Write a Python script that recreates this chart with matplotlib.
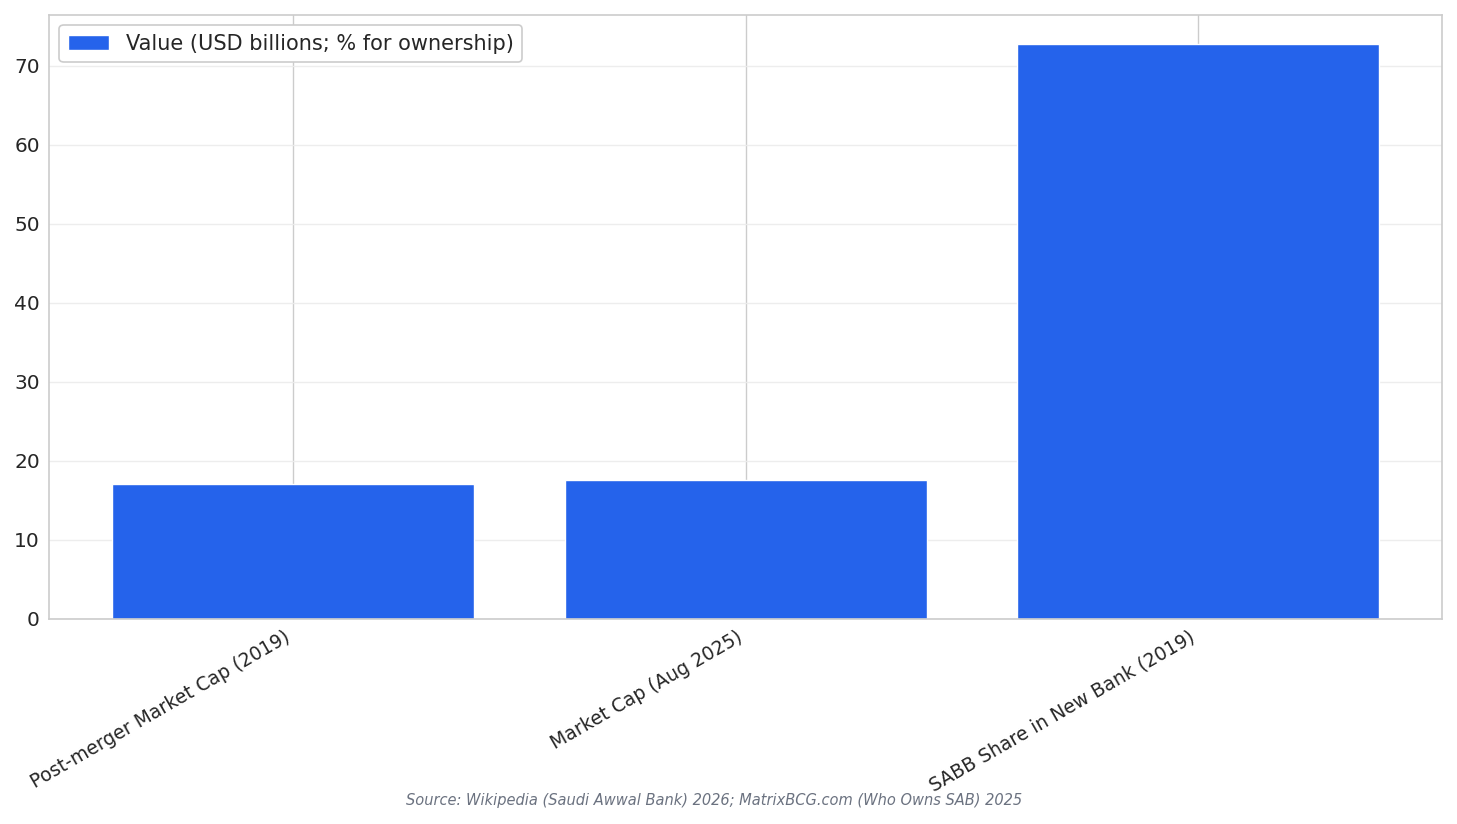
import matplotlib
matplotlib.use("Agg")
import matplotlib.pyplot as plt
import seaborn as sns

categories = ["Post-merger Market Cap (2019)", "Market Cap (Aug 2025)", "SABB Share in New Bank (2019)"]
values = [17.0, 17.6, 72.8]
series_label = "Value (USD billions; % for ownership)"
source = "Source: Wikipedia (Saudi Awwal Bank) 2026; MatrixBCG.com (Who Owns SAB) 2025"

sns.set_theme(style="whitegrid")
plt.rcParams['font.family'] = ['DejaVu Sans']

fig, ax = plt.subplots(figsize=(14.57, 8.24), dpi=100)
ax.bar(categories, values, width=0.8, color="#2563eb", label=series_label, zorder=2)
ax.yaxis.grid(True, color="#ececec", alpha=0.9)
ax.xaxis.grid(True, color="#cccccc")
for s in ax.spines.values():
    s.set_color("#cccccc")
    s.set_linewidth(1.2)
ax.tick_params(axis='y', labelsize=14.5, length=3)
ax.tick_params(axis='x', labelsize=13.5, length=3)
plt.setp(ax.get_xticklabels(), rotation=30, ha='right')
leg = ax.legend(loc='upper left', fontsize=15, framealpha=1)
leg.get_frame().set_edgecolor("#cccccc")
leg.get_frame().set_linewidth(1.2)
fig.subplots_adjust(left=0.0336, right=0.99, top=0.982, bottom=0.249)
fig.text(0.49, 0.028, source, ha='center', va='center', fontsize=10.5, style='italic', color='#6b7280')
fig.savefig("out.png", dpi=100)
